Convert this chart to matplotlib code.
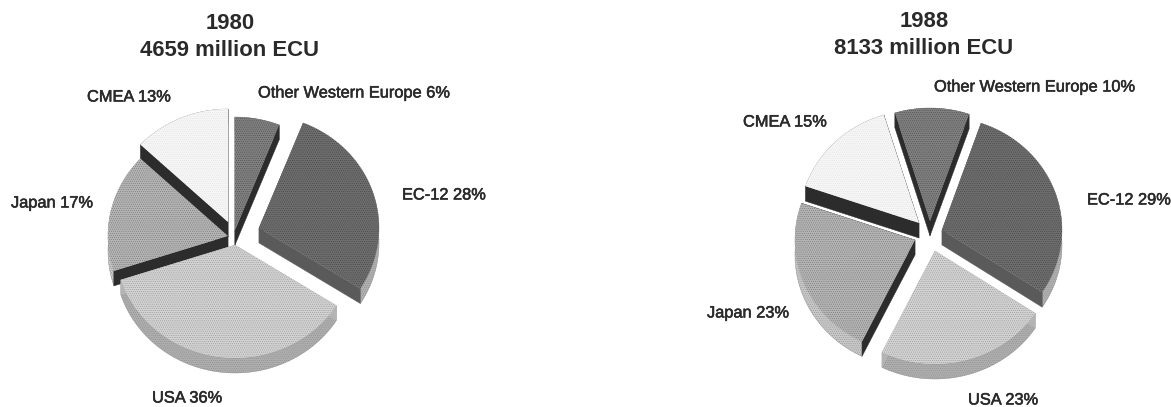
import numpy as np
import matplotlib
matplotlib.use('Agg')
import matplotlib.pyplot as plt
from matplotlib.patches import Polygon
import matplotlib.patheffects as pe

plt.rcParams['font.family'] = ['Liberation Sans', 'DejaVu Sans']
plt.rcParams['hatch.linewidth'] = 0.3

regions = ['Other Western Europe', 'EC-12', 'USA', 'Japan', 'CMEA']
shares_1980 = [6, 28, 36, 17, 13]
shares_1988 = [10, 29, 23, 23, 15]
title_1980 = '1980\n4659 million ECU'
title_1988 = '1988\n8133 million ECU'

# look of the slices, same order as regions
top_cols = ['#808080', '#6e6e6e', '#d2d2d2', '#b4b4b4', '#f6f6f6']
edge_cols = ['#2c2c2c', '#5a5a5a', '#b4b4b4', '#2c2c2c', '#2c2c2c']
rim_cols = ['#555555', '#b0b0b0', '#aeaeae', '#c8c8c8', '#dddddd']
dots = ['#444444', '#3a3a3a', '#8c8c8c', '#6a6a6a', '#dddddd']

RX, RY, DEPTH = 120, 113, 15

# where each slice tip sits on the page (pixels)
tips_1980 = [(235, 230), (259, 228), (235, 245), (228, 236), (228, 222)]
tips_1988 = [(930, 221), (942, 230), (935, 251), (915, 240), (919, 223)]

# label anchor: left x, centre y
labels_1980 = [(258, 93), (402, 195), (152, 398), (11, 203), (87, 97)]
labels_1988 = [(934, 87), (1087, 200), (968, 400), (707, 313), (743, 122)]


def draw_pie(ax, shares, start, tips, labels, title, title_x, title_y):
    angles = start - np.cumsum([0] + shares) * 3.6
    slices = []
    for i in range(len(shares)):
        t = np.radians(np.linspace(angles[i], angles[i + 1], 60))
        x = tips[i][0] + RX * np.cos(t)
        y = tips[i][1] - RY * np.sin(t)
        slices.append((tips[i][1] - RY * 0.5 * np.sin(t.mean()), i, x, y))

    # back to front
    for _, i, x, y in sorted(slices, key=lambda s: s[0]):
        tx, ty = tips[i]
        rim = list(zip(x, y)) + list(zip(x[::-1], y[::-1] + DEPTH))
        ax.add_patch(Polygon(rim, fc=rim_cols[i], ec='#888888', lw=0.3, hatch='........'))
        for ex, ey in [(x[0], y[0]), (x[-1], y[-1])]:
            wall = [(tx, ty), (ex, ey), (ex, ey + DEPTH), (tx, ty + DEPTH)]
            ax.add_patch(Polygon(wall, fc=edge_cols[i], ec=edge_cols[i], lw=0.3))
        top = [(tx, ty)] + list(zip(x, y))
        ax.add_patch(Polygon(top, fc=top_cols[i], ec=dots[i], lw=0, hatch='........'))

    for i, name in enumerate(regions):
        ax.text(labels[i][0], labels[i][1], '%s %d%%' % (name, shares[i]), fontsize=11.8,
                color='#2a2a2a', ha='left', va='center',
                path_effects=[pe.withStroke(linewidth=0.4, foreground='#2a2a2a')])
    ax.text(title_x, title_y, title, fontsize=15.9, fontweight='bold', color='#2a2a2a',
            ha='center', va='center', linespacing=1.38)


fig = plt.figure(figsize=(11.71, 4.07), dpi=100)
ax1 = fig.add_axes([0, 0, 0.5, 1])
ax2 = fig.add_axes([0.5, 0, 0.5, 1])
ax1.set_xlim(0, 585.5)
ax2.set_xlim(585.5, 1171)
for ax in (ax1, ax2):
    ax.set_ylim(407, 0)
    ax.axis('off')

draw_pie(ax1, shares_1980, 90, tips_1980, labels_1980, title_1980, 230, 37)
draw_pie(ax2, shares_1988, 107, tips_1988, labels_1988, title_1988, 924, 35)

fig.savefig('out.png', dpi=100)
